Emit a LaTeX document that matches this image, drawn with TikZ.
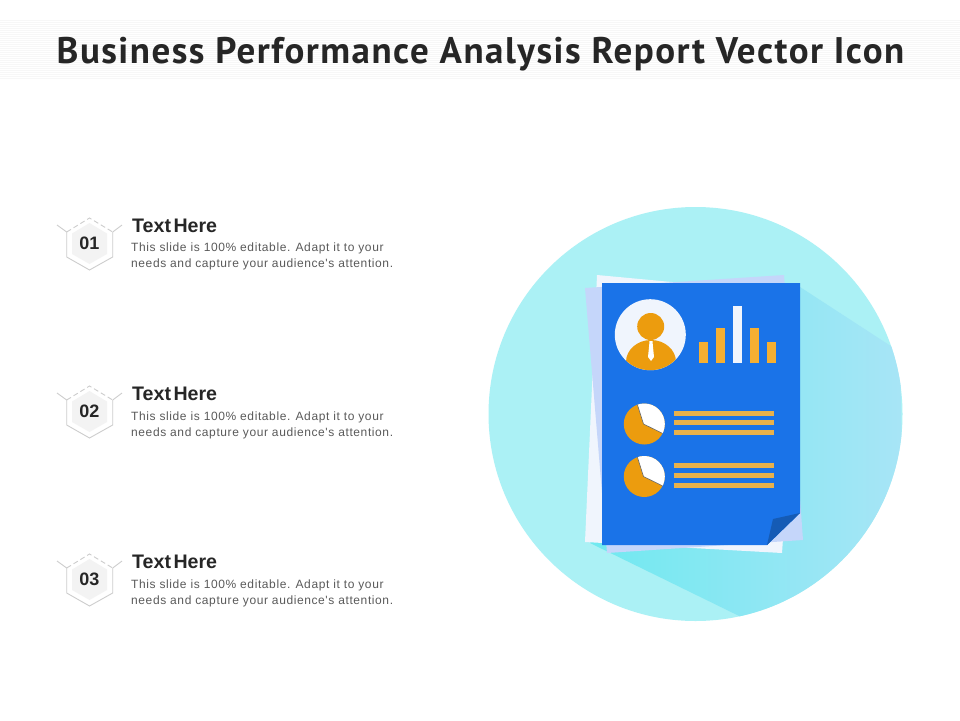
\documentclass[tikz,border=0pt]{standalone}
\usepackage{fontspec}
\setmainfont{Liberation Sans}
\newfontfamily\titlefont[LetterSpace=4]{PT Sans}
\newfontfamily\bodyfont[LetterSpace=5]{Liberation Sans}
\usetikzlibrary{shapes,backgrounds,calc,patterns}

\definecolor{discfill}{HTML}{ABF1F5}
\definecolor{pagefill}{HTML}{1A73E8}
\definecolor{foldfill}{HTML}{155BB5}
\definecolor{lilacfill}{HTML}{C5D6FA}
\definecolor{sheetfill}{HTML}{F0F5FD}
\definecolor{barfill}{HTML}{F5AF32}
\definecolor{rulefill}{HTML}{E8B14C}
\definecolor{figfill}{HTML}{EC9C0E}
\definecolor{hexline}{HTML}{CDCDCD}
\definecolor{hexfill}{HTML}{F3F3F3}
\definecolor{inktext}{HTML}{262626}
\definecolor{greytext}{HTML}{5A5A5A}

\tikzset{
	headtext/.style = {anchor=west, inner sep=0pt, font=\fontsize{19.6}{19.6}\selectfont\bfseries, text=inktext},
	bodytext/.style = {anchor=west, inner sep=0pt, font=\fontsize{12}{12}\bodyfont, text=greytext},
	numtext/.style = {inner sep=0pt, font=\fontsize{18}{18}\selectfont\bfseries, text=inktext},
	hexedge/.style = {draw=hexline, line width=0.9pt},
	bar/.style = {fill=barfill},
	rule/.style = {fill=rulefill}
}

\begin{document}
\begin{tikzpicture}[x=1pt,y=-1pt]
	\useasboundingbox (0,0) rectangle (960,720);
	\fill[white] (0,0) rectangle (960,720);

	% title band
	\fill[black!3] (0,20) rectangle (960,79);
	\foreach \ly in {21,23,...,79}
		\draw[white, line width=0.6pt] (0,\ly) -- (960,\ly);
	\node[inner sep=0pt, text=inktext, font=\fontsize{37}{37}\titlefont\bfseries] (title) at (480.5,54) {Business Performance Analysis Report Vector Icon};

	% three text rows
	\foreach \num/\oy/\hy in {01/0/226, 02/168/394, 03/336/562} {
		\begin{scope}[yshift=-\oy pt]
		\fill[hexfill] (89.5,223) -- (107,233.5) -- (107,254) -- (89.5,264) -- (72,254) -- (72,233.5) -- cycle;
		\draw[hexedge] (66.7,232) -- (66.7,257) -- (89.5,270) -- (112.7,257) -- (112.7,232);
		\draw[hexedge] (57,225) -- (66.7,232);
		\draw[hexedge] (122,225) -- (112.7,232);
		\draw[hexedge, dash pattern=on 5pt off 3pt] (66.7,232) -- (89.5,218) -- (112.7,232);
		\node[numtext] (num\num) at (89.5,243) {\num};
		\end{scope}
		\node[headtext] (head\num) at (132,\hy) {Text\hspace{2.5pt}Here};
	}
	\node[bodytext] (bodya) at (131,248) {This slide is 100\% editable. Adapt it to your};
	\node[bodytext] (bodyb) at (131,264) {needs and capture your audience's attention.};
	\node[bodytext] (bodyc) at (131,417) {This slide is 100\% editable. Adapt it to your};
	\node[bodytext] (bodyd) at (131,433) {needs and capture your audience's attention.};
	\node[bodytext] (bodye) at (131,585) {This slide is 100\% editable. Adapt it to your};
	\node[bodytext] (bodyf) at (131,601) {needs and capture your audience's attention.};

	% disc and long shadow
	\fill[discfill] (695.5,414) circle (207);
	\begin{scope}
		\clip (695.5,414) circle (207);
		\path[left color={rgb,255:red,112;green,233;blue,240}, right color={rgb,255:red,168;green,229;blue,246}] (800,287) -- (900,352) -- (905,640) -- (780,636) -- (590,543) -- cycle;
	\end{scope}

	% sheets
	\fill[sheetfill] (597,275) -- (800,294) -- (782,553) -- (585,542) -- cycle;
	\fill[lilacfill] (585,288) -- (784,275) -- (803,540) -- (607,553) -- cycle;
	\fill[pagefill] (602,283) -- (800,283) -- (800,513) -- (767,545) -- (602,545) -- cycle;
	\fill[foldfill] (800,513) -- (773,519) -- (767,545) -- cycle;

	% portrait
	\fill[sheetfill] (650.3,334.7) circle (35.5);
	\begin{scope}
		\clip (650.3,334.7) circle (35.5);
		\fill[figfill] (651,362) ellipse (25 and 22);
	\end{scope}
	\fill[figfill] (650.7,326.5) circle (13.5);
	\fill[white] (649.5,341) -- (652.5,341) -- (652.8,345) -- (654,357) -- (651,361) -- (648,357) -- (649.2,345) -- cycle;

	% bar chart
	\fill[bar] (699,342) rectangle (708,363);
	\fill[bar] (716,328) rectangle (725,363);
	\fill[sheetfill] (733,306) rectangle (742,363);
	\fill[bar] (750,328) rectangle (759,363);
	\fill[bar] (767,342) rectangle (776,363);

	% pies with rules
	\foreach \py/\ra/\rb/\rc in {424/413/422.5/432.5, 476.5/465.5/475.5/485.5} {
		\fill[figfill] (644.3,\py) circle (20.5);
		\begin{scope}
			\clip (644.3,\py) circle (20.5);
			\fill[white] (643.5,\py) -- (635,\py-27) -- (672,\py-27) -- (672,\py+14) -- cycle;
			\draw[black!60, line width=0.6pt] (635,\py-27) -- (643.5,\py) -- (672,\py+14);
		\end{scope}
		\fill[rule] (674,\ra-2.5) rectangle (774,\ra+2.5);
		\fill[rule] (674,\rb-2.5) rectangle (774,\rb+2.5);
		\fill[rule] (674,\rc-2.5) rectangle (774,\rc+2.5);
	}
\end{tikzpicture}
\end{document}
